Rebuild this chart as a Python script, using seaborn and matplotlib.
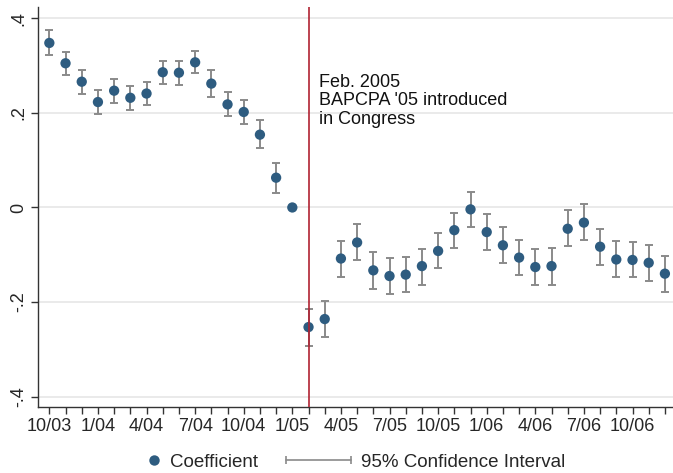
import numpy as np
import pandas as pd
import matplotlib
matplotlib.use("Agg")
import matplotlib.pyplot as plt
from matplotlib.lines import Line2D
from matplotlib.legend_handler import HandlerBase
import seaborn as sns

# monthly coefficients, 10/03 .. 12/06 (1/05 is the omitted month)
months = ["10/03", "11/03", "12/03", "1/04", "2/04", "3/04", "4/04", "5/04",
          "6/04", "7/04", "8/04", "9/04", "10/04", "11/04", "12/04", "1/05",
          "2/05", "3/05", "4/05", "5/05", "6/05", "7/05", "8/05", "9/05",
          "10/05", "11/05", "12/05", "1/06", "2/06", "3/06", "4/06", "5/06",
          "6/06", "7/06", "8/06", "9/06", "10/06", "11/06", "12/06"]
coef = [0.348, 0.305, 0.266, 0.223, 0.247, 0.232, 0.241, 0.286, 0.285, 0.307,
        0.262, 0.218, 0.202, 0.154, 0.063, 0.0, -0.253, -0.236, -0.108, -0.074,
        -0.133, -0.145, -0.142, -0.124, -0.092, -0.048, -0.004, -0.052, -0.080,
        -0.106, -0.126, -0.124, -0.045, -0.032, -0.083, -0.110, -0.111, -0.117,
        -0.140]
ci_hi = [0.375, 0.329, 0.290, 0.248, 0.272, 0.257, 0.266, 0.310, 0.310, 0.331,
         0.290, 0.244, 0.228, 0.185, 0.095, 0.0, -0.215, -0.197, -0.070, -0.036,
         -0.094, -0.107, -0.104, -0.087, -0.054, -0.011, 0.033, -0.013, -0.042,
         -0.069, -0.088, -0.085, -0.006, 0.007, -0.045, -0.071, -0.073, -0.079,
         -0.102]
ci_lo = [0.322, 0.280, 0.239, 0.197, 0.221, 0.207, 0.217, 0.261, 0.258, 0.284,
         0.234, 0.193, 0.177, 0.125, 0.031, 0.0, -0.292, -0.275, -0.146, -0.112,
         -0.172, -0.182, -0.179, -0.163, -0.128, -0.086, -0.042, -0.091, -0.117,
         -0.143, -0.164, -0.164, -0.082, -0.069, -0.121, -0.147, -0.148, -0.155,
         -0.179]
event_month = "2/05"
event_text = "Feb. 2005\nBAPCPA '05 introduced\nin Congress"

df = pd.DataFrame({"t": np.arange(len(months)), "coef": coef,
                   "lo": ci_lo, "hi": ci_hi})

sns.set_style("white")
plt.rcParams["font.family"] = ["Liberation Sans", "DejaVu Sans"]

navy = "#2E5C80"
gray = "#8a8a8a"
fs = 13


class DotHandler(HandlerBase):
    # dot sits at the right end of the handle box, next to its label
    def create_artists(self, legend, orig, xd, yd, w, h, fontsize, trans):
        d = Line2D([-xd + w - 0.35 * fontsize], [h / 2 - yd], marker="o",
                   color=navy, ls="none", markersize=7.5, markeredgewidth=0)
        d.set_transform(trans)
        return [d]


class CapHandler(HandlerBase):
    def create_artists(self, legend, orig, xd, yd, w, h, fontsize, trans):
        y = h / 2 - yd
        ln = Line2D([-xd, -xd + w], [y, y], color=gray, lw=1.2)
        cp = Line2D([-xd, -xd + w], [y, y], color=gray, ls="none",
                    marker="|", markersize=6, markeredgewidth=1.2)
        ln.set_transform(trans)
        cp.set_transform(trans)
        return [ln, cp]


fig = plt.figure(figsize=(6.73, 4.73), dpi=100)
ax = fig.add_axes([38 / 673, 66 / 473, 1 - 38 / 673, 400 / 473])

for v in [-0.4, -0.2, 0, 0.2, 0.4]:
    ax.axhline(v, color="#e6e6e6", lw=1.2, zorder=0)

# CI caps; skip the reference month
m = df["hi"] != df["lo"]
ax.errorbar(df.t[m], df.coef[m],
            yerr=[df.coef[m] - df.lo[m], df.hi[m] - df.coef[m]],
            fmt="none", ecolor=gray, elinewidth=1.4, capsize=3.2,
            capthick=1.4, zorder=2)
sns.scatterplot(data=df, x="t", y="coef", color=navy, s=55, edgecolor="none",
                ax=ax, zorder=3, legend=False)

ex = months.index(event_month)
ax.axvline(ex, color="#B02232", lw=1.2, zorder=4)
ax.text(ex + 0.62, 0.283, event_text, ha="left", va="top", fontsize=fs,
        linespacing=1.12, color="#111111")

ax.set_xlim(-0.7, len(months) - 0.5)
ax.set_ylim(-0.422, 0.424)
ax.set_xticks(df.t)
ax.set_xticklabels([lab if i % 3 == 0 else "" for i, lab in enumerate(months)],
                   fontsize=fs)
ax.set_yticks([-0.4, -0.2, 0, 0.2, 0.4])
ax.set_yticklabels(["-.4", "-.2", "0", ".2", ".4"], fontsize=fs,
                   rotation=90, va="center")
ax.tick_params(axis="both", direction="out", length=5, width=1,
               color="#333333", bottom=True, left=True, pad=3)
ax.set_xlabel("")
ax.set_ylabel("")
for s in ["top", "right"]:
    ax.spines[s].set_visible(False)
for s in ["left", "bottom"]:
    ax.spines[s].set_color("#333333")
    ax.spines[s].set_linewidth(1)

h_pt = object()
h_ci = object()
fig.legend([h_pt, h_ci], ["Coefficient", "95% Confidence Interval"],
           handler_map={h_pt: DotHandler(), h_ci: CapHandler()},
           loc="center", bbox_to_anchor=(0.49, 0.023), ncol=2, frameon=False,
           fontsize=13.5, handlelength=3.5, columnspacing=1.5,
           handletextpad=0.5)

fig.savefig("out.png", dpi=100)
